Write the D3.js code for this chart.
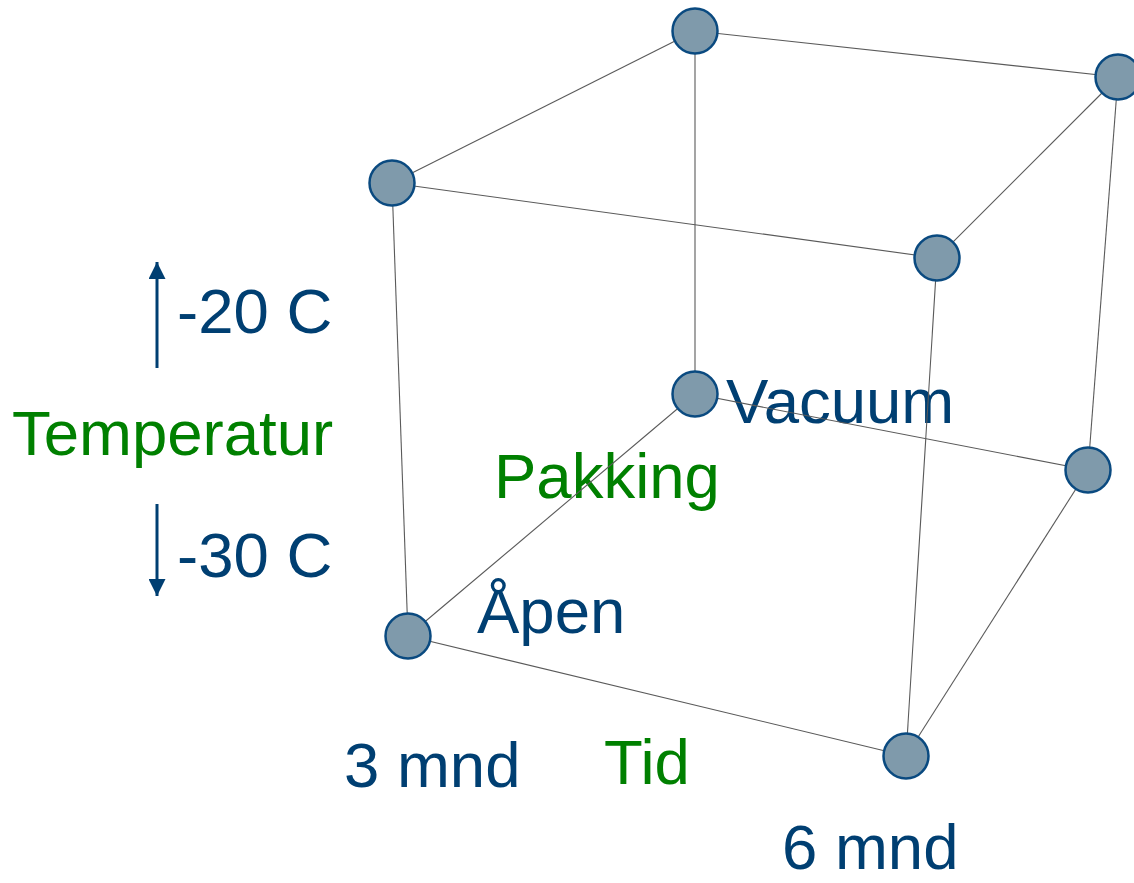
<!DOCTYPE html>
<html>
<head>
<meta charset="utf-8">
<script src="https://cdn.jsdelivr.net/npm/d3@7/dist/d3.min.js"></script>
<style>
  html, body { margin: 0; padding: 0; background: #fff; }
  svg { display: block; }
  text { font-family: "Liberation Sans", Arial, sans-serif; }
</style>
</head>
<body>
<svg id="chart" width="1134" height="883"></svg>
<script>
// ---- data ----
const factors = ["Tid", "Pakking", "Temperatur"];
const tidLevels = ["3 mnd", "6 mnd"];
const pakkingLevels = ["Åpen", "Vacuum"];
const temperaturLevels = ["-30 C", "-20 C"];

// ---- layout: projected corners of the unit cube (perspective view) ----
const W = 1134, H = 883;
const cubeCorners = {
  "000": [408, 636], "100": [906, 756], "010": [695, 394], "110": [1088, 470],
  "001": [392, 183], "101": [937, 258], "011": [695, 31],  "111": [1118, 77]
};

const sx = d3.scalePoint().domain(tidLevels).range([0, 1]);
const sy = d3.scalePoint().domain(pakkingLevels).range([0, 1]);
const sz = d3.scalePoint().domain(temperaturLevels).range([0, 1]);

function project(u, v, w) {
  let x = 0, y = 0;
  for (const a of [0, 1]) for (const b of [0, 1]) for (const c of [0, 1]) {
    const wt = (a ? u : 1 - u) * (b ? v : 1 - v) * (c ? w : 1 - w);
    const p = cubeCorners[`${a}${b}${c}`];
    x += wt * p[0]; y += wt * p[1];
  }
  return [x, y];
}

const nodes = [];
tidLevels.forEach(t => pakkingLevels.forEach(p => temperaturLevels.forEach(te => {
  const [x, y] = project(sx(t), sy(p), sz(te));
  nodes.push({ t, p, te, x, y });
})));

const edges = [];
for (let i = 0; i < nodes.length; i++) for (let j = i + 1; j < nodes.length; j++) {
  const a = nodes[i], b = nodes[j];
  const diff = (a.t !== b.t) + (a.p !== b.p) + (a.te !== b.te);
  if (diff === 1) edges.push([a, b]);
}

const svg = d3.select("#chart");
const blue = "#003f72", green = "#008000";

// ---- labels ----
const labels = [
  { text: temperaturLevels[1], x: 177, y: 333, color: blue },
  { text: factors[2], x: 12, y: 455, color: green },
  { text: temperaturLevels[0], x: 177, y: 577, color: blue },
  { text: factors[1], x: 494, y: 498, color: green },
  { text: pakkingLevels[1], x: 726, y: 423, color: blue },
  { text: pakkingLevels[0], x: 477, y: 633, color: blue },
  { text: tidLevels[0], x: 344, y: 787, color: blue },
  { text: factors[0], x: 604, y: 784, color: green },
  { text: tidLevels[1], x: 782, y: 869, color: blue }
];
svg.append("g").selectAll("text").data(labels).join("text")
  .attr("x", d => d.x).attr("y", d => d.y)
  .attr("font-size", 63.5).attr("fill", d => d.color)
  .text(d => d.text);

// ---- arrows ----
const defs = svg.append("defs");
defs.append("marker").attr("id", "ah").attr("viewBox", "0 0 10 10")
  .attr("refX", 10).attr("refY", 5).attr("markerWidth", 17).attr("markerHeight", 17)
  .attr("markerUnits", "userSpaceOnUse").attr("orient", "auto")
  .append("path").attr("d", "M0,0 L10,5 L0,10 Z").attr("fill", blue);
const arrows = [[157, 368, 262], [157, 504, 596]];
svg.append("g").selectAll("line").data(arrows).join("line")
  .attr("x1", d => d[0]).attr("y1", d => d[1])
  .attr("x2", d => d[0]).attr("y2", d => d[2])
  .attr("stroke", blue).attr("stroke-width", 3)
  .attr("marker-end", "url(#ah)");

// ---- edges ----
svg.append("g").selectAll("line").data(edges).join("line")
  .attr("x1", d => d[0].x).attr("y1", d => d[0].y)
  .attr("x2", d => d[1].x).attr("y2", d => d[1].y)
  .attr("stroke", "#5a5a5a").attr("stroke-width", 1.1);

// ---- nodes ----
svg.append("g").selectAll("circle").data(nodes).join("circle")
  .attr("cx", d => d.x).attr("cy", d => d.y).attr("r", 22.5)
  .attr("fill", "#7f9aab").attr("stroke", "#0a4a80").attr("stroke-width", 2.5);
</script>
</body>
</html>
